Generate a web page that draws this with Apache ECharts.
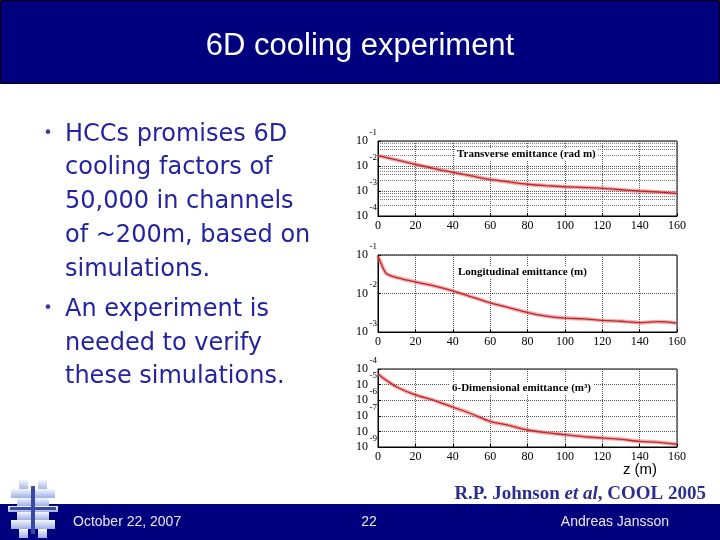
<!DOCTYPE html>
<html>
<head>
<meta charset="utf-8">
<script src="https://cdn.jsdelivr.net/npm/echarts@6/dist/echarts.min.js"></script>
<style>
html,body{margin:0;padding:0;background:#fff;}
#main{width:720px;height:540px;}
</style>
</head>
<body>
<div id="main"></div>
<script>
// ---- data ----
const zTrans = [0,10,20,30,40,50,60,70,80,90,100,110,120,130,140,150,160];
const transverse = [0.0258,0.0174,0.0117,0.0079,0.0056,0.0040,0.0029,0.0023,0.00186,0.00163,0.00148,0.00138,0.00128,0.00112,0.0010,0.00091,0.00081];

const zLong = [0,2,4,6,10,20,30,40,50,60,70,80,90,100,110,120,130,140,150,160];
const longitudinal = [0.094,0.055,0.035,0.030,0.026,0.020,0.0158,0.0117,0.0082,0.0057,0.0043,0.0032,0.0026,0.0023,0.0022,0.0020,0.0019,0.00175,0.00185,0.0017];

const z6D = [0,2,5,10,20,30,40,50,60,70,80,90,100,110,120,130,140,150,160];
const sixD = [5.0e-5,3.1e-5,1.7e-5,7.0e-6,2.2e-6,9.8e-7,3.6e-7,1.35e-7,4.4e-8,2.45e-8,1.23e-8,8.3e-9,6.2e-9,4.6e-9,3.8e-9,3.1e-9,2.3e-9,2.0e-9,1.5e-9];

const panelTitles = ['Transverse emittance (rad m)','Longitudinal emittance (m)','6-Dimensional emittance (m\u00b3)'];
const yRanges = [[1e-4,1e-1],[1e-3,1e-1],[1e-9,1e-4]];
const zRange = [0,160];
const zStep = 20;

const slideTitle = '6D cooling experiment';
const bulletLines = [
  ['HCCs promises 6D', true],
  ['cooling factors of', false],
  ['50,000 in channels', false],
  ['of ~200m, based on', false],
  ['simulations.', false],
  ['An experiment is', true],
  ['needed to verify', false],
  ['these simulations.', false]
];
const footerTexts = ['October 22, 2007','22','Andreas Jansson'];

// ---- layout ----
const grids = [
  {left:378, top:141, width:299, height:75},
  {left:378, top:255, width:299, height:77},
  {left:378, top:369, width:299, height:78}
];
const titlePos = [[455,149],[456,267],[450,383]];
const bulletY = [135,168,202,236,270,310,344,377];

const serif = 'Liberation Serif';
const chart = echarts.init(document.getElementById('main'), null, {renderer:'canvas'});

const xAxes = grids.map((g,i)=>({
  gridIndex:i, type:'value', min:zRange[0], max:zRange[1], interval:zStep,
  axisLine:{show:true, lineStyle:{color:'#000', width:1}},
  axisTick:{show:true, inside:true, length:3, lineStyle:{color:'#000'}},
  axisLabel:{color:'#000', fontFamily:serif, fontSize:12, margin:4, showMinLabel:true, showMaxLabel:true},
  splitLine:{show:true, lineStyle:{color:'#555', type:'dotted', width:1}}
}));
const yAxes = [];
grids.forEach((g,i)=>{
  // main axis: "10" mantissa labels
  yAxes.push({
    gridIndex:i, type:'log', logBase:10, min:yRanges[i][0], max:yRanges[i][1], position:'left',
    axisLine:{show:true, lineStyle:{color:'#000', width:1}},
    axisTick:{show:true, inside:true, length:3, lineStyle:{color:'#000'}},
    axisLabel:{color:'#000', fontFamily:serif, fontSize:12, margin:10, showMinLabel:true, showMaxLabel:true,
      formatter:function(){ return '10'; }},
    splitLine:{show:true, lineStyle:{color:'#555', type:'dotted', width:1}},
    minorTick:{show:false},
    minorSplitLine:{show:i===0, lineStyle:{color:'#777', type:'dotted', width:1}}
  });
  // exponent axis: superscripts above-right of "10"
  yAxes.push({
    gridIndex:i, type:'log', logBase:10, min:yRanges[i][0], max:yRanges[i][1], position:'left', offset:0,
    axisLine:{show:false}, axisTick:{show:false}, splitLine:{show:false},
    axisLabel:{margin:1, showMinLabel:true, showMaxLabel:true, verticalAlign:'bottom', align:'right',
      formatter:function(v){ return '{e|' + Math.round(Math.log10(v)) + '}'; },
      rich:{e:{fontFamily:serif, fontSize:9, lineHeight:9, padding:[0,0,8,0], color:'#000'}}}
  });
});

const seriesData = [
  [zTrans, transverse],
  [zLong, longitudinal],
  [z6D, sixD]
];
const series = [];
seriesData.forEach((sd,i)=>{
  const pts = sd[0].map((z,k)=>[z, sd[1][k]]);
  series.push({type:'line', xAxisIndex:i, yAxisIndex:2*i, data:pts, smooth:0.3, symbol:'none',
    lineStyle:{color:'rgba(225,110,110,0.55)', width:4}, silent:true, z:2});
  series.push({type:'line', xAxisIndex:i, yAxisIndex:2*i, data:pts, smooth:0.3, symbol:'none',
    lineStyle:{color:'#c0262b', width:1.3}, silent:true, z:3});
});

const titles = panelTitles.map((t,i)=>({
  text:t, left:titlePos[i][0], top:titlePos[i][1], padding:[0,2],
  backgroundColor:'#fff',
  textStyle:{fontFamily:serif, fontWeight:'bold', fontSize:11, color:'#000'}
}));

// ---- slide graphics ----
const graphic = [];
graphic.push({type:'rect', shape:{x:0.5,y:0.5,width:719,height:83}, style:{fill:'#00007f', stroke:'#000', lineWidth:1}, z:0});
graphic.push({type:'text', x:360, y:46, style:{text:slideTitle, fill:'#fff', font:'31px "Liberation Sans"', textAlign:'center', textVerticalAlign:'middle'}, z:5});
bulletLines.forEach((b,k)=>{
  if (b[1]) graphic.push({type:'text', x:48, y:bulletY[k]-1, style:{text:'\u2022', fill:'#3a3a9a', font:'16px "DejaVu Sans"', textAlign:'center', textVerticalAlign:'middle'}});
  graphic.push({type:'text', x:65, y:bulletY[k], style:{text:b[0], fill:'#2424a0', font:'24px "DejaVu Sans"', textAlign:'left', textVerticalAlign:'middle'}});
});
graphic.push({type:'text', x:640, y:470, style:{text:'z (m)', fill:'#000', font:'15px "Liberation Sans"', textAlign:'center', textVerticalAlign:'middle'}});
graphic.push({type:'text', x:706, y:494, style:{
  text:'{n|R.P. Johnson }{i|et al}{n|, COOL 2005}', textAlign:'right', textVerticalAlign:'middle',
  rich:{
    n:{fontFamily:serif, fontWeight:'bold', fontSize:19, fill:'#2e2e8c'},
    i:{fontFamily:serif, fontWeight:'bold', fontStyle:'italic', fontSize:19, fill:'#2e2e8c'}
  }}});
graphic.push({type:'rect', shape:{x:0,y:504,width:720,height:36}, style:{fill:'#00007f'}, z:0});
graphic.push({type:'text', x:73, y:522, style:{text:footerTexts[0], fill:'#e8e8f0', font:'14px "Liberation Sans"', textAlign:'left', textVerticalAlign:'middle'}});
graphic.push({type:'text', x:369, y:522, style:{text:footerTexts[1], fill:'#e8e8f0', font:'14px "Liberation Sans"', textAlign:'center', textVerticalAlign:'middle'}});
graphic.push({type:'text', x:669, y:522, style:{text:footerTexts[2], fill:'#e8e8f0', font:'14px "Liberation Sans"', textAlign:'right', textVerticalAlign:'middle'}});
// logo (stylised blocks)
const logoBlocks = [[11,0,9,10],[30,0,9,10],[3,9,44,9],[9,18,32,8],[0,26,50,6],[9,32,32,8],[3,40,44,9],[11,49,9,9],[30,49,9,9]];
const logoGrad = new echarts.graphic.LinearGradient(0,0,0,1,[{offset:0,color:'#f4f6ff'},{offset:0.5,color:'#c9d3f2'},{offset:1,color:'#9fb0e2'}]);
logoBlocks.forEach(b=>{
  graphic.push({type:'rect', shape:{x:8+b[0], y:480+b[1], width:b[2], height:b[3]}, style:{fill:logoGrad}, z:10});
});
graphic.push({type:'rect', shape:{x:31, y:486, width:4, height:48}, style:{fill:'#3a4aa0'}, z:11});
graphic.push({type:'rect', shape:{x:10, y:507, width:46, height:3}, style:{fill:'#3a4aa0'}, z:11});

chart.setOption({
  backgroundColor:'#fff',
  animation:false,
  title:titles,
  grid:grids.map(g=>Object.assign({show:true, borderColor:'#000', borderWidth:1, backgroundColor:'#fff'}, g)),
  xAxis:xAxes,
  yAxis:yAxes,
  series:series,
  graphic:graphic
});
</script>
</body>
</html>
